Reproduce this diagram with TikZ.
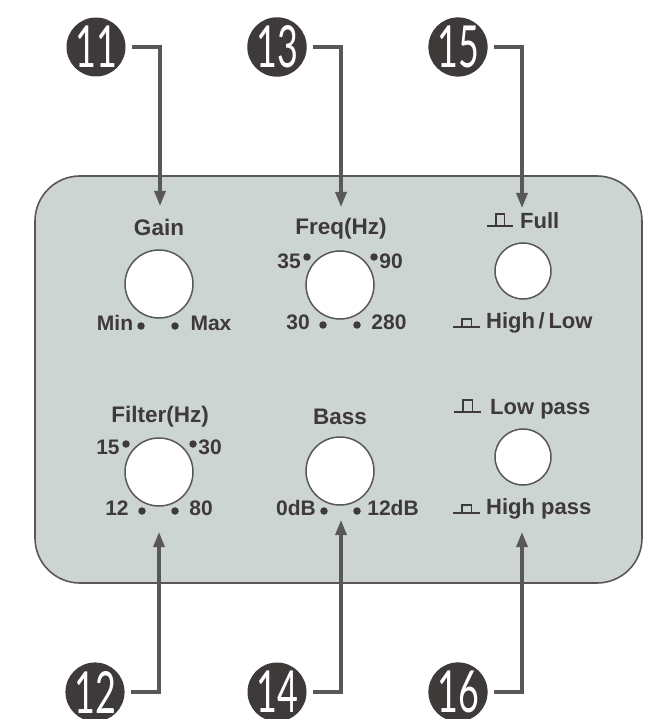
\documentclass[tikz,border=0pt]{standalone}
\usepackage{fontspec}
\setmainfont{Liberation Sans}
\newfontfamily\badgefont{Lato}
\usetikzlibrary{arrows.meta}
\definecolor{panelfill}{HTML}{CDD5D3}
\definecolor{ink}{HTML}{3E3A39}
\definecolor{wire}{HTML}{595757}
\newcommand{\badgetext}[1]{\scalebox{.62}[1]{\fontsize{58}{60}\selectfont\badgefont #1}}
\tikzset{
  x=1pt,y=-1pt,
  panelbox/.style={draw=wire,line width=1.6pt,fill=panelfill,rounded corners=45pt},
  badge/.style={circle,fill=ink,text=white,minimum size=58pt,inner sep=0pt},
  conn/.style={draw=wire,line width=3.2pt,shorten <=6pt,-{Triangle[length=15pt,width=11pt]}},
  knob/.style={circle,draw=wire,fill=white,line width=1.5pt,inner sep=0pt},
  bigknob/.style={knob,minimum size=68pt},
  smallknob/.style={knob,minimum size=56pt},
  lab/.style={anchor=base,inner sep=0pt,text=ink,font=\fontsize{21}{23}\selectfont\bfseries},
  title/.style={lab,font=\fontsize{22.5}{24}\selectfont\bfseries},
  swlab/.style={lab,anchor=base west,font=\fontsize{22}{24}\selectfont\bfseries},
  tick/.style={circle,fill=ink,minimum size=7.5pt,inner sep=0pt},
  pulse/.style={draw=ink,line width=1.5pt},
}
\newcommand{\pulsesym}[4]{% left, right, baseline, top
  \draw[pulse] (#1,#3) -- (#2,#3);
  \draw[pulse] ({#1+(#2-#1)*0.34},#3) -- ({#1+(#2-#1)*0.34},#4) -- ({#1+(#2-#1)*0.68},#4) -- ({#1+(#2-#1)*0.68},#3);
}
\begin{document}
\begin{tikzpicture}
\useasboundingbox (0,0) rectangle (649,719);
\path[panelbox] (35,176) rectangle (642,583);

% badges
\node[badge] (b11) at (96,47) {\badgetext{11}};
\node[badge] (b13) at (277,47) {\badgetext{13}};
\node[badge] (b15) at (458,47) {\badgetext{15}};
\node[badge] (b12) at (95,692) {\badgetext{12}};
\node[badge] (b14) at (277,692) {\badgetext{14}};
\node[badge] (b16) at (458,692) {\badgetext{16}};

% arrow ends
\coordinate (a11) at (160,206);
\coordinate (a13) at (341,207);
\coordinate (a15) at (522,208);
\coordinate (a12) at (159,532);
\coordinate (a14) at (341,520);
\coordinate (a16) at (522,532);
\foreach \n in {11,13,15,12,14,16}{\draw[conn] (b\n) -| (a\n);}

% knobs
\node[bigknob] (kgain) at (159,284) {};
\node[bigknob] (kfreq) at (340,285) {};
\node[smallknob] (kfull) at (523,271) {};
\node[bigknob] (kfilter) at (159,472) {};
\node[bigknob] (kbass) at (340,471) {};
\node[smallknob] (kpass) at (523,457) {};

% titles
\node[title] (tgain) at (159,235) {Gain};
\node[title] (tfreq) at (341,234) {Freq(Hz)};
\node[title] (tfilter) at (160,422) {Filter(Hz)};
\node[title] (tbass) at (340,424) {Bass};

% gain
\node[lab] (gmin) at (115,330) {Min};
\node[lab] (gmax) at (211,330) {Max};
\node[tick] (g1) at (141,326) {};
\node[tick] (g2) at (175,326) {};

% freq
\node[lab] (f35) at (289,268) {35};
\node[lab] (f90) at (391,268) {90};
\node[lab] (f30) at (298,329) {30};
\node[lab] (f280) at (389,329) {280};
\node[tick] (f1) at (307,257) {};
\node[tick] (f2) at (374,257) {};
\node[tick] (f3) at (323,325) {};
\node[tick] (f4) at (357,325) {};

% filter
\node[lab] (h15) at (108,454) {15};
\node[lab] (h30) at (210,454) {30};
\node[lab] (h12) at (117,515) {12};
\node[lab] (h80) at (201,515) {80};
\node[tick] (h1) at (126,444) {};
\node[tick] (h2) at (193,444) {};
\node[tick] (h3) at (142,511) {};
\node[tick] (h4) at (175,511) {};

% bass
\node[lab] (s0) at (296,515) {0dB};
\node[lab] (s12) at (393,515) {12dB};
\node[tick] (s1) at (324,511) {};
\node[tick] (s2) at (357,511) {};

% switches
\node[swlab] (sfull) at (520,228) {Full};
\node[swlab] (shl) at (486,328) {High\,/\,Low};
\node[swlab] (slp) at (490,414) {Low pass};
\node[swlab] (shp) at (486,514) {High pass};
\pulsesym{487}{513}{226}{214}
\pulsesym{453}{480}{327}{319}
\pulsesym{454}{481}{412}{400}
\pulsesym{453}{480}{513}{505}
\end{tikzpicture}
\end{document}
